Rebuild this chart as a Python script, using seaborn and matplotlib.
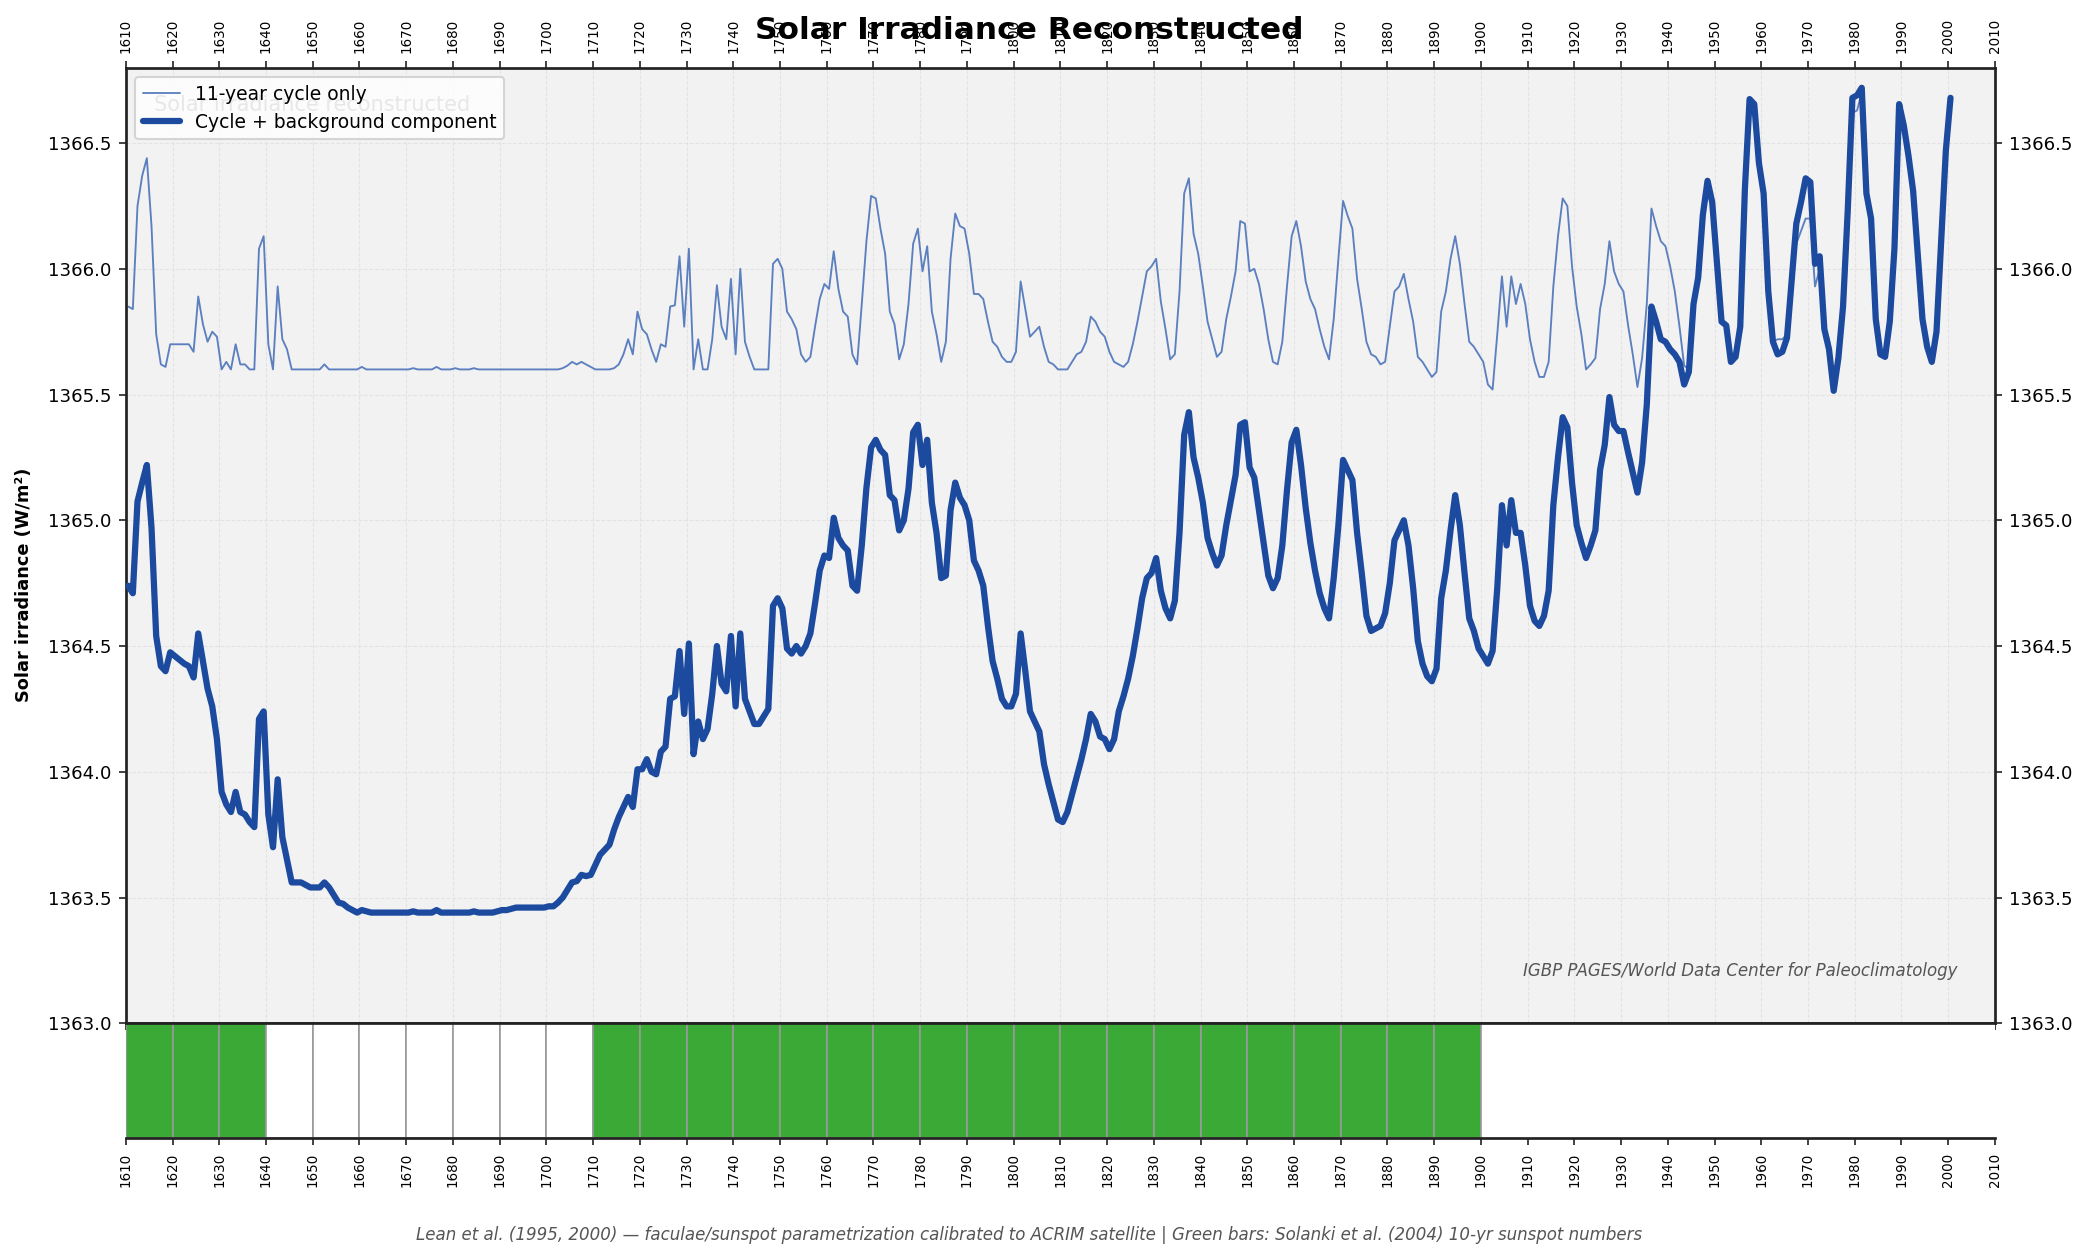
import numpy as np
import pandas as pd
import matplotlib
matplotlib.use('Agg')
import matplotlib.pyplot as plt
import seaborn as sns

# 年份（Lean 数据以年中 .5 标注）
years = np.arange(1610, 2001) + 0.5

# 11-year cycle only
cycle_only = [
    1365.85, 1365.84, 1366.25, 1366.37, 1366.44, 1366.17, 1365.74, 1365.62, 1365.61, 1365.70,
    1365.70, 1365.70, 1365.70, 1365.70, 1365.67, 1365.89, 1365.78, 1365.71, 1365.75, 1365.73,
    1365.60, 1365.63, 1365.60, 1365.70, 1365.62, 1365.62, 1365.60, 1365.60, 1366.08, 1366.13,
    1365.70, 1365.60, 1365.93, 1365.72, 1365.68, 1365.60, 1365.60, 1365.60, 1365.60, 1365.60,
    1365.60, 1365.60, 1365.62, 1365.60, 1365.60, 1365.60, 1365.60, 1365.60, 1365.60, 1365.60,
    1365.61, 1365.60, 1365.60, 1365.60, 1365.60, 1365.60, 1365.60, 1365.60, 1365.60, 1365.60,
    1365.60, 1365.605, 1365.60, 1365.60, 1365.60, 1365.60, 1365.61, 1365.60, 1365.60, 1365.60,
    1365.605, 1365.60, 1365.60, 1365.60, 1365.605, 1365.60, 1365.60, 1365.60, 1365.60, 1365.60,
    1365.60, 1365.60, 1365.60, 1365.60, 1365.60, 1365.60, 1365.60, 1365.60, 1365.60, 1365.60,
    1365.60, 1365.60, 1365.60, 1365.605, 1365.615, 1365.63, 1365.62, 1365.63, 1365.62, 1365.61,
    1365.60, 1365.60, 1365.60, 1365.60, 1365.605, 1365.62, 1365.66, 1365.72, 1365.66, 1365.83,
    1365.76, 1365.74, 1365.68, 1365.63, 1365.70, 1365.69, 1365.85, 1365.855, 1366.05, 1365.77,
    1366.08, 1365.60, 1365.72, 1365.60, 1365.60, 1365.72, 1365.935, 1365.77, 1365.72, 1365.96,
    1365.66, 1366.00, 1365.71, 1365.65, 1365.60, 1365.60, 1365.60, 1365.60, 1366.02, 1366.04,
    1366.00, 1365.83, 1365.80, 1365.76, 1365.66, 1365.63, 1365.65, 1365.77, 1365.88, 1365.94,
    1365.92, 1366.07, 1365.92, 1365.83, 1365.81, 1365.66, 1365.62, 1365.86, 1366.11, 1366.29,
    1366.28, 1366.16, 1366.06, 1365.83, 1365.78, 1365.64, 1365.70, 1365.86, 1366.10, 1366.16,
    1365.99, 1366.09, 1365.83, 1365.74, 1365.63, 1365.71, 1366.04, 1366.22, 1366.17, 1366.16,
    1366.06, 1365.90, 1365.90, 1365.88, 1365.79, 1365.71, 1365.69, 1365.65, 1365.63, 1365.63,
    1365.67, 1365.95, 1365.84, 1365.73, 1365.75, 1365.77, 1365.69, 1365.63, 1365.62, 1365.60,
    1365.60, 1365.60, 1365.63, 1365.66, 1365.67, 1365.71, 1365.81, 1365.79, 1365.75, 1365.73,
    1365.67, 1365.63, 1365.62, 1365.61, 1365.63, 1365.70, 1365.79, 1365.89, 1365.99, 1366.01,
    1366.04, 1365.87, 1365.76, 1365.64, 1365.66, 1365.91, 1366.30, 1366.36, 1366.14, 1366.06,
    1365.93, 1365.79, 1365.72, 1365.65, 1365.67, 1365.80, 1365.89, 1365.99, 1366.19, 1366.18,
    1365.99, 1366.00, 1365.94, 1365.84, 1365.72, 1365.63, 1365.62, 1365.71, 1365.93, 1366.13,
    1366.19, 1366.09, 1365.95, 1365.88, 1365.84, 1365.76, 1365.69, 1365.64, 1365.80, 1366.04,
    1366.27, 1366.21, 1366.16, 1365.96, 1365.84, 1365.71, 1365.66, 1365.65, 1365.62, 1365.63,
    1365.77, 1365.91, 1365.93, 1365.98, 1365.88, 1365.79, 1365.65, 1365.63, 1365.60, 1365.57,
    1365.59, 1365.83, 1365.91, 1366.04, 1366.13, 1366.02, 1365.86, 1365.71, 1365.69, 1365.66,
    1365.63, 1365.54, 1365.52, 1365.74, 1365.97, 1365.77, 1365.97, 1365.86, 1365.94, 1365.86,
    1365.72, 1365.63, 1365.57, 1365.57, 1365.63, 1365.93, 1366.13, 1366.28, 1366.25, 1366.01,
    1365.85, 1365.74, 1365.60, 1365.62, 1365.645, 1365.84, 1365.94, 1366.11, 1365.99, 1365.94,
    1365.91, 1365.775, 1365.66, 1365.53, 1365.645, 1365.86, 1366.24, 1366.17, 1366.11, 1366.09,
    1366.01, 1365.91, 1365.77, 1365.615, 1365.60, 1365.86, 1365.965, 1366.215, 1366.35, 1366.265,
    1366.03, 1365.79, 1365.775, 1365.63, 1365.65, 1365.77, 1366.32, 1366.675, 1366.655, 1366.42,
    1366.30, 1365.91, 1365.71, 1365.72, 1365.72, 1365.74, 1365.95, 1366.10, 1366.15, 1366.20,
    1366.20, 1365.93, 1366.00, 1365.76, 1365.72, 1365.515, 1365.645, 1365.85, 1366.23, 1366.62,
    1366.63, 1366.70, 1366.30, 1366.20, 1365.80, 1365.66, 1365.65, 1365.79, 1366.08, 1366.655,
    1366.57, 1366.45, 1366.31, 1366.055, 1365.80, 1365.69, 1365.63, 1365.75, 1366.11, 1366.47,
    1366.68,
]

# Cycle + background component
cycle_bg = [
    1364.74, 1364.71, 1365.075, 1365.15, 1365.22, 1364.97, 1364.54, 1364.42, 1364.40, 1364.475,
    1364.46, 1364.445, 1364.43, 1364.42, 1364.375, 1364.55, 1364.44, 1364.33, 1364.26, 1364.13,
    1363.92, 1363.87, 1363.84, 1363.92, 1363.84, 1363.83, 1363.80, 1363.78, 1364.21, 1364.24,
    1363.83, 1363.70, 1363.97, 1363.74, 1363.65, 1363.56, 1363.56, 1363.56, 1363.55, 1363.54,
    1363.54, 1363.54, 1363.56, 1363.54, 1363.51, 1363.48, 1363.475, 1363.46, 1363.45, 1363.44,
    1363.45, 1363.445, 1363.44, 1363.44, 1363.44, 1363.44, 1363.44, 1363.44, 1363.44, 1363.44,
    1363.44, 1363.445, 1363.44, 1363.44, 1363.44, 1363.44, 1363.45, 1363.44, 1363.44, 1363.44,
    1363.44, 1363.44, 1363.44, 1363.44, 1363.445, 1363.44, 1363.44, 1363.44, 1363.44, 1363.445,
    1363.45, 1363.45, 1363.455, 1363.46, 1363.46, 1363.46, 1363.46, 1363.46, 1363.46, 1363.46,
    1363.465, 1363.465, 1363.48, 1363.50, 1363.53, 1363.56, 1363.565, 1363.59, 1363.585, 1363.59,
    1363.63, 1363.67, 1363.69, 1363.71, 1363.77, 1363.82, 1363.86, 1363.90, 1363.86, 1364.01,
    1364.01, 1364.05, 1364.00, 1363.99, 1364.08, 1364.10, 1364.29, 1364.30, 1364.48, 1364.23,
    1364.51, 1364.07, 1364.20, 1364.13, 1364.17, 1364.31, 1364.50, 1364.35, 1364.32, 1364.54,
    1364.26, 1364.55, 1364.29, 1364.24, 1364.19, 1364.19, 1364.22, 1364.25, 1364.66, 1364.69,
    1364.65, 1364.49, 1364.47, 1364.50, 1364.47, 1364.50, 1364.55, 1364.67, 1364.80, 1364.86,
    1364.85, 1365.01, 1364.93, 1364.90, 1364.88, 1364.74, 1364.72, 1364.90, 1365.13, 1365.29,
    1365.32, 1365.28, 1365.26, 1365.10, 1365.08, 1364.96, 1365.00, 1365.125, 1365.35, 1365.38,
    1365.22, 1365.32, 1365.07, 1364.95, 1364.77, 1364.78, 1365.04, 1365.15, 1365.09, 1365.06,
    1365.00, 1364.84, 1364.80, 1364.74, 1364.58, 1364.44, 1364.37, 1364.29, 1364.26, 1364.26,
    1364.31, 1364.55, 1364.40, 1364.24, 1364.20, 1364.16, 1364.03, 1363.95, 1363.88, 1363.81,
    1363.80, 1363.84, 1363.91, 1363.98, 1364.05, 1364.13, 1364.23, 1364.20, 1364.14, 1364.13,
    1364.09, 1364.13, 1364.24, 1364.30, 1364.37, 1364.46, 1364.57, 1364.69, 1364.77, 1364.79,
    1364.85, 1364.72, 1364.65, 1364.61, 1364.68, 1364.95, 1365.34, 1365.43, 1365.25, 1365.17,
    1365.07, 1364.93, 1364.87, 1364.82, 1364.86, 1364.98, 1365.08, 1365.18, 1365.38, 1365.39,
    1365.21, 1365.17, 1365.04, 1364.91, 1364.78, 1364.73, 1364.77, 1364.90, 1365.12, 1365.31,
    1365.36, 1365.22, 1365.05, 1364.91, 1364.80, 1364.71, 1364.65, 1364.61, 1364.77, 1364.98,
    1365.24, 1365.20, 1365.16, 1364.95, 1364.79, 1364.62, 1364.56, 1364.57, 1364.58, 1364.63,
    1364.75, 1364.92, 1364.96, 1365.00, 1364.90, 1364.73, 1364.52, 1364.43, 1364.38, 1364.36,
    1364.41, 1364.69, 1364.80, 1364.96, 1365.10, 1364.98, 1364.79, 1364.61, 1364.56, 1364.49,
    1364.46, 1364.43, 1364.48, 1364.73, 1365.06, 1364.90, 1365.08, 1364.95, 1364.95, 1364.82,
    1364.66, 1364.60, 1364.58, 1364.62, 1364.72, 1365.06, 1365.25, 1365.41, 1365.37, 1365.15,
    1364.98, 1364.91, 1364.85, 1364.90, 1364.96, 1365.20, 1365.30, 1365.49, 1365.38, 1365.355,
    1365.355, 1365.27, 1365.19, 1365.11, 1365.23, 1365.46, 1365.85, 1365.79, 1365.72, 1365.71,
    1365.68, 1365.66, 1365.63, 1365.54, 1365.59, 1365.86, 1365.965, 1366.215, 1366.35, 1366.265,
    1366.03, 1365.79, 1365.775, 1365.63, 1365.65, 1365.77, 1366.32, 1366.675, 1366.655, 1366.42,
    1366.30, 1365.91, 1365.71, 1365.66, 1365.67, 1365.725, 1365.95, 1366.18, 1366.265, 1366.36,
    1366.345, 1366.02, 1366.05, 1365.76, 1365.68, 1365.515, 1365.645, 1365.85, 1366.23, 1366.68,
    1366.69, 1366.72, 1366.30, 1366.20, 1365.80, 1365.66, 1365.65, 1365.79, 1366.08, 1366.655,
    1366.57, 1366.45, 1366.31, 1366.055, 1365.80, 1365.69, 1365.63, 1365.75, 1366.11, 1366.47,
    1366.68,
]

# Solanki 10 年太阳黑子：每个年代是否为活跃期（绿色）
decades = list(range(1610, 1900, 10))
active = [1, 1, 1, 0, 0, 0, 0, 0, 0, 0, 1, 1, 1, 1, 1, 1, 1, 1, 1, 1,
          1, 1, 1, 1, 1, 1, 1, 1, 1]

year_ticks = list(range(1610, 2011, 10))
y_ticks = [1363.0, 1363.5, 1364.0, 1364.5, 1365.0, 1365.5, 1366.0, 1366.5]

df = pd.DataFrame({'year': years, 'cycle': cycle_only, 'background': cycle_bg})

sns.set_style('ticks')
plt.rcParams['font.family'] = ['DejaVu Sans']
plt.rcParams['text.color'] = 'black'
plt.rcParams['xtick.labelcolor'] = 'black'
plt.rcParams['ytick.labelcolor'] = 'black'

fig = plt.figure(figsize=(2090 / 150, 1260 / 150), dpi=150)
ax = fig.add_axes([0.0602, 0.1879, 0.8943, 0.7584])
axb = fig.add_axes([0.0602, 0.0968, 0.8943, 0.0911])

ax.set_facecolor('#f2f2f2')

sns.lineplot(data=df, x='year', y='cycle', ax=ax, color='#4c74ba', linewidth=0.9,
             alpha=0.9, label='11-year cycle only', zorder=2)
sns.lineplot(data=df, x='year', y='background', ax=ax, color='#1c4a9f', linewidth=3.0,
             label='Cycle + background component', zorder=3)

ax.set_xlim(1610, 2010)
ax.set_ylim(1363.0, 1366.8)
ax.set_xticks(year_ticks)
ax.set_yticks(y_ticks)
ax.set_yticklabels([f'{v:.1f}' for v in y_ticks])
ax.set_xlabel('')
ax.set_ylabel('')
ax.grid(True, linestyle='--', color='#e3e3e3', linewidth=0.5)
ax.tick_params(axis='x', top=True, labeltop=True, bottom=True, labelbottom=False,
               labelrotation=90, labelsize=6.5, color='#222222')
ax.tick_params(axis='y', left=True, right=True, labelleft=True, labelright=True,
               labelsize=8.7, color='#222222')
for sp in ax.spines.values():
    sp.set_visible(True)
    sp.set_color('#222222')
    sp.set_linewidth(1.3)

# 背景水印
ax.text(0.015, 0.961, 'Solar irradiance reconstructed', transform=ax.transAxes,
        ha='left', va='center', fontsize=10, color='#8a8a8a', zorder=1)
ax.legend(loc='upper left', fontsize=9, frameon=True, framealpha=0.8,
          edgecolor='#cccccc')
ax.text(0.98, 0.055, 'IGBP PAGES/World Data Center for Paleoclimatology',
        transform=ax.transAxes, ha='right', va='center', fontsize=8,
        style='italic', color='#555555')

# 年代柱
bar_colors = ['#3aa935' if a else 'white' for a in active]
axb.bar(decades, [1] * len(decades), width=10, align='edge', color=bar_colors,
        edgecolor='#999999', linewidth=0.8)
axb.set_xlim(1610, 2010)
axb.set_ylim(0, 1)
axb.set_yticks([])
axb.set_xticks(year_ticks)
axb.tick_params(axis='x', labelrotation=90, labelsize=6.5, color='#222222')
axb.spines['left'].set_visible(False)
axb.spines['right'].set_visible(False)
for side in ['top', 'bottom']:
    axb.spines[side].set_color('#222222')
    axb.spines[side].set_linewidth(1.3)

fig.text(0.4926, 0.976, 'Solar Irradiance Reconstructed', ha='center', va='center',
         fontsize=15, fontweight='bold', color='black')
fig.text(0.0115, 0.536, 'Solar irradiance (W/m²)', rotation=90, ha='center', va='center',
         fontsize=8.5, fontweight='bold', color='black')
fig.text(0.4926, 0.0198,
         'Lean et al. (1995, 2000) — faculae/sunspot parametrization calibrated to ACRIM satellite'
         ' | Green bars: Solanki et al. (2004) 10-yr sunspot numbers',
         ha='center', va='center', fontsize=8, style='italic', color='#555555')

fig.savefig('out.png', dpi=150)
